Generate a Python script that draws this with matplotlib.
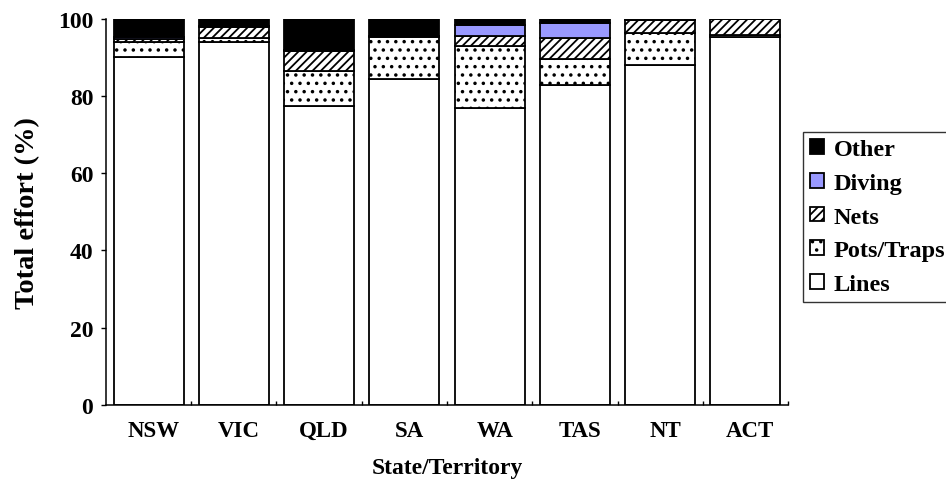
import numpy as np
import matplotlib
matplotlib.use('Agg')
import matplotlib.pyplot as plt
from matplotlib.transforms import ScaledTranslation

# Dados (percentual do esforço total por método de pesca)
states = ['NSW', 'VIC', 'QLD', 'SA', 'WA', 'TAS', 'NT', 'ACT']
lines = [90.0, 94.0, 77.4, 84.3, 76.8, 82.8, 88.0, 95.3]
pots_traps = [4.0, 1.0, 8.9, 10.8, 16.2, 6.7, 8.2, 0.5]
nets = [0.8, 2.9, 5.4, 0.5, 2.6, 5.5, 3.4, 4.2]
diving = [0.4, 0.3, 0.1, 0.0, 2.7, 3.8, 0.0, 0.0]
other = [4.8, 1.8, 8.2, 4.4, 1.7, 1.2, 0.4, 0.0]

plt.rcParams['font.family'] = ['Liberation Serif', 'DejaVu Serif']
plt.rcParams['font.weight'] = 'bold'
plt.rcParams['hatch.linewidth'] = 1.3

fig = plt.figure(figsize=(9.46, 4.89), dpi=100)
ax = fig.add_axes([0.112, 0.170, 0.721, 0.790])

x = np.arange(len(states))
series = [
    ('Lines', lines, 'white', None),
    ('Pots/Traps', pots_traps, 'white', '..'),
    ('Nets', nets, 'white', '////'),
    ('Diving', diving, '#9999ff', None),
    ('Other', other, 'black', None),
]

bottom = np.zeros(len(states))
handles = []
for name, vals, col, hatch in series:
    b = ax.bar(x, vals, bottom=bottom, width=0.82, color=col, edgecolor='black',
               linewidth=1.3, hatch=hatch, label=name)
    handles.append(b)
    bottom += np.array(vals)

ax.set_xlim(-0.5, 7.5)
ax.set_ylim(0, 100)
ax.set_yticks([0, 20, 40, 60, 80, 100])
ax.set_xticks(x)
ax.set_xticklabels(states, fontsize=16.5, fontweight='bold')
ax.set_xticks(np.arange(0.5, 8, 1), minor=True)
ax.tick_params(axis='x', which='major', length=0, pad=11)
ax.tick_params(axis='x', which='minor', direction='in', length=3, width=1)
ax.tick_params(axis='y', direction='out', length=3.6, width=1, pad=5.5, labelsize=17)

# rótulos das categorias levemente deslocados à direita, como no original
offset = ScaledTranslation(5 / 100, 0, fig.dpi_scale_trans)
for lab in ax.get_xticklabels():
    lab.set_transform(lab.get_transform() + offset)

for s in ['top', 'right']:
    ax.spines[s].set_visible(False)
for s in ['left', 'bottom']:
    ax.spines[s].set_linewidth(1.1)

ax.set_xlabel('State/Territory', fontsize=17, fontweight='bold', labelpad=11.5)
ax.set_ylabel('Total effort (%)', fontsize=20.5, fontweight='bold', labelpad=13)

leg = fig.legend(handles[::-1], [h.get_label() for h in handles[::-1]],
                 loc='upper left', bbox_to_anchor=(803 / 946, 1 - 133 / 489),
                 prop={'size': 17.5, 'weight': 'bold'}, frameon=True, fancybox=False,
                 handlelength=0.55, handleheight=0.55, handletextpad=0.4,
                 labelspacing=0.52, borderpad=0.3, borderaxespad=0)
leg.get_frame().set_edgecolor('black')
leg.get_frame().set_linewidth(1.0)

fig.savefig('out.png', dpi=100)
